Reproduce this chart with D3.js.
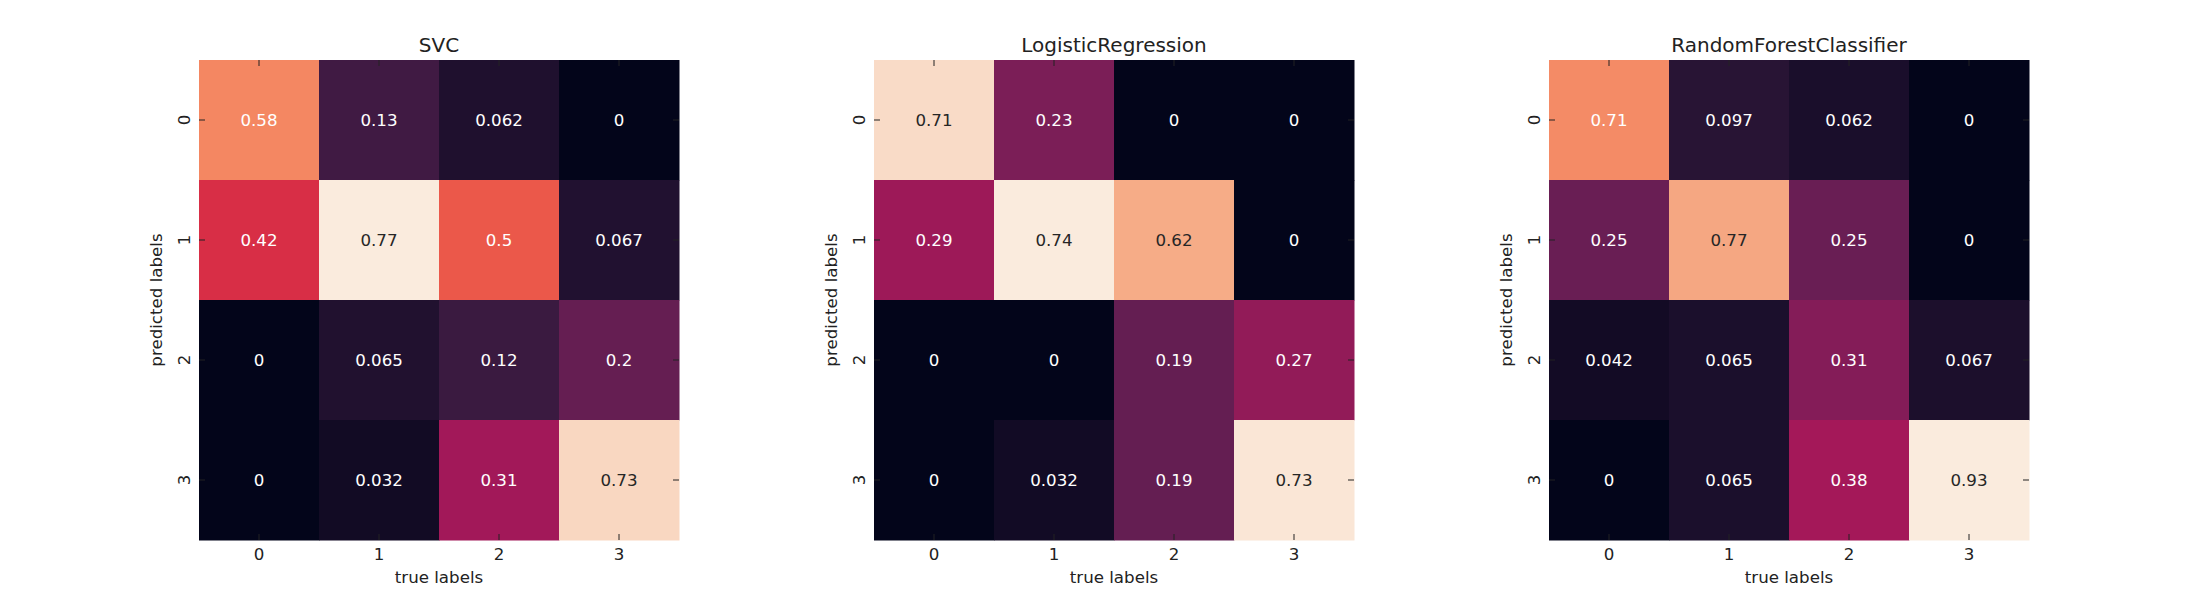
<!DOCTYPE html>
<html>
<head>
<meta charset="utf-8">
<script src="https://cdnjs.cloudflare.com/ajax/libs/d3/7.8.5/d3.min.js"></script>
<style>
  body { margin: 0; background: #fff; }
  svg text { font-family: "DejaVu Sans", sans-serif; }
</style>
</head>
<body>
<div id="vis"></div>
<script>
// classes on both axes
const classes = ["0", "1", "2", "3"];

// confusion matrices, rows = predicted label, cols = true label
const svcValues = [
    [0.58, 0.13, 0.062, 0],
    [0.42, 0.77, 0.5, 0.067],
    [0, 0.065, 0.12, 0.2],
    [0, 0.032, 0.31, 0.73]
];
const lrValues = [
    [0.71, 0.23, 0, 0],
    [0.29, 0.74, 0.62, 0],
    [0, 0, 0.19, 0.27],
    [0, 0.032, 0.19, 0.73]
];
const rfValues = [
    [0.71, 0.097, 0.062, 0],
    [0.25, 0.77, 0.25, 0],
    [0.042, 0.065, 0.31, 0.067],
    [0, 0.065, 0.38, 0.93]
];
const modelNames = ["SVC", "LogisticRegression", "RandomForestClassifier"];

let width = 2200;
let height = 600;
let size = 480;
let marginTop = 60;
let lefts = [199, 874, 1549];

// rocket colormap, sampled
var rocket = d3.scaleLinear()
    .domain([0, 1 / 7, 2 / 7, 3 / 7, 4 / 7, 5 / 7, 6 / 7, 1])
    .range(["#03051a", "#35193e", "#701f57", "#ad1759", "#e13342", "#f37651", "#f6b48f", "#faebdd"])
    .interpolate(d3.interpolateRgb)
    .clamp(true);

function luminance(c) {
    var rgb = d3.rgb(c);
    var lin = [rgb.r, rgb.g, rgb.b].map(function (v) {
        v = v / 255;
        return v <= 0.03928 ? v / 12.92 : Math.pow((v + 0.055) / 1.055, 2.4);
    });
    return 0.2126 * lin[0] + 0.7152 * lin[1] + 0.0722 * lin[2];
}

var fmt = d3.format(".2~g");

var svg = d3.select("#vis")
    .append("svg")
    .attr("width", width)
    .attr("height", height);

function heatmap(values, name, left) {
    var cells = [];
    values.forEach(function (row, i) {
        row.forEach(function (v, j) {
            cells.push({ pred: classes[i], truth: classes[j], value: v });
        });
    });

    var x = d3.scaleBand().domain(classes).range([0, size]);
    var y = d3.scaleBand().domain(classes).range([0, size]);
    var flat = values.flat();
    var norm = d3.scaleLinear().domain([d3.min(flat), d3.max(flat)]).range([0, 1]);

    var g = svg.append("g").attr("transform", "translate(" + left + "," + marginTop + ")");

    g.selectAll("rect")
        .data(cells)
        .enter().append("rect")
        .attr("x", function (d) { return x(d.truth); })
        .attr("y", function (d) { return y(d.pred); })
        .attr("width", x.bandwidth() + 0.5)
        .attr("height", y.bandwidth() + 0.5)
        .attr("fill", function (d) { return rocket(norm(d.value)); });

    g.selectAll("text.annot")
        .data(cells)
        .enter().append("text")
        .attr("class", "annot")
        .attr("x", function (d) { return x(d.truth) + x.bandwidth() / 2; })
        .attr("y", function (d) { return y(d.pred) + y.bandwidth() / 2; })
        .attr("dy", "0.36em")
        .attr("text-anchor", "middle")
        .style("font-size", "16.67px")
        .attr("fill", function (d) {
            return luminance(rocket(norm(d.value))) > 0.408 ? "#262626" : "#ffffff";
        })
        .text(function (d) { return fmt(d.value); });

    // ticks point inward on all four sides
    var clean = function (sel) {
        sel.select(".domain").remove();
        sel.selectAll(".tick line").attr("stroke", "#222");
    };

    g.append("g")
        .attr("transform", "translate(0," + size + ")")
        .call(d3.axisBottom(x).tickSize(-6).tickPadding(8.2))
        .call(clean)
        .selectAll("text")
        .style("font-size", "16.67px")
        .attr("fill", "#222");

    g.append("g")
        .call(d3.axisTop(x).tickSize(-6).tickFormat(""))
        .call(clean);

    g.append("g")
        .attr("transform", "translate(" + size + ",0)")
        .call(d3.axisRight(y).tickSize(-6).tickFormat(""))
        .call(clean);

    g.append("g")
        .call(d3.axisLeft(y).tickSize(-6))
        .call(clean)
        .selectAll("text")
        .attr("x", null)
        .attr("dy", null)
        .attr("transform", "translate(-9.5,0) rotate(-90)")
        .attr("text-anchor", "middle")
        .style("font-size", "16.67px")
        .attr("fill", "#222");

    g.append("text")
        .attr("x", size / 2)
        .attr("y", -8)
        .attr("text-anchor", "middle")
        .style("font-size", "20px")
        .attr("fill", "#222")
        .text(name);

    g.append("text")
        .attr("x", size / 2)
        .attr("y", size + 43)
        .attr("text-anchor", "middle")
        .style("font-size", "16.67px")
        .attr("fill", "#222")
        .text("true labels");

    g.append("text")
        .attr("transform", "translate(-37," + size / 2 + ") rotate(-90)")
        .attr("text-anchor", "middle")
        .style("font-size", "16.67px")
        .attr("fill", "#222")
        .text("predicted labels");
}

heatmap(svcValues, modelNames[0], lefts[0]);
heatmap(lrValues, modelNames[1], lefts[1]);
heatmap(rfValues, modelNames[2], lefts[2]);
</script>
</body>
</html>
